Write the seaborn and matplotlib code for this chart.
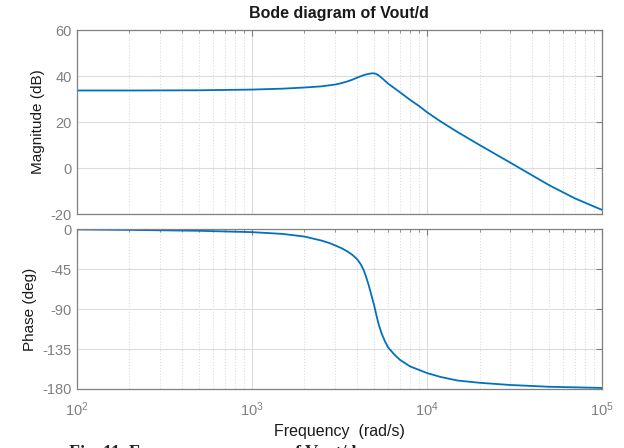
import pandas as pd
import numpy as np
import matplotlib
matplotlib.use("Agg")
import matplotlib.pyplot as plt
import seaborn as sns
from matplotlib.ticker import LogLocator, NullFormatter

# valores
mag_freq = [100, 200, 500, 1000, 1500, 2000, 2500, 3000, 3250, 3500, 3750, 4000,
            4250, 4500, 4700, 4900, 5100, 5300, 5500, 5750, 6000, 6500, 7000, 7500,
            8000, 9000, 10000, 12000, 15000, 20000, 30000, 50000, 70000, 100000]
mag_db = [33.7, 33.7, 33.8, 34.1, 34.5, 35.0, 35.5, 36.3, 36.9, 37.6, 38.4, 39.3,
          40.1, 40.7, 41.0, 41.2, 41.0, 40.3, 39.3, 38.0, 36.7, 34.8, 33.0, 31.3,
          29.7, 27.0, 24.3, 20.2, 15.6, 10.0, 2.3, -7.5, -13.2, -18.2]

ph_freq = [100, 200, 500, 1000, 1500, 2000, 2500, 2750, 3000, 3250, 3500, 3750,
           4000, 4200, 4350, 4500, 4650, 4800, 5000, 5150, 5300, 5500, 5750, 6000,
           6500, 7000, 8000, 10000, 12000, 15000, 20000, 30000, 50000, 100000]
ph_deg = [-0.5, -1.0, -2.0, -3.5, -5.5, -8.5, -13.0, -15.5, -18.5, -21.5, -25, -29,
          -34, -40, -46, -54, -63, -73, -86, -97, -107, -117, -126, -133,
          -141, -147, -154.5, -162, -166.5, -170.5, -173, -175.5, -177.5, -178.8]

mag_df = pd.DataFrame({"freq": mag_freq, "mag": mag_db})
ph_df = pd.DataFrame({"freq": ph_freq, "phase": ph_deg})

sns.set_style("white")
plt.rcParams['font.family'] = ['Liberation Sans', 'DejaVu Sans']
plt.rcParams['axes.unicode_minus'] = False

fig = plt.figure(figsize=(6.24, 4.48), dpi=100)
ax1 = fig.add_axes([0.1229, 0.5223, 0.8418, 0.4107])
ax2 = fig.add_axes([0.1229, 0.1317, 0.8418, 0.3571])

line_color = "#0072BD"
sns.lineplot(data=mag_df, x="freq", y="mag", ax=ax1, color=line_color, linewidth=1.3)
sns.lineplot(data=ph_df, x="freq", y="phase", ax=ax2, color=line_color, linewidth=1.3)

gray = "#808080"
for ax in (ax1, ax2):
    ax.set_xscale("log")
    ax.set_xlim(100, 100000)
    ax.xaxis.set_major_locator(LogLocator(base=10))
    ax.xaxis.set_minor_locator(LogLocator(base=10, subs=np.arange(2, 10)))
    ax.xaxis.set_minor_formatter(NullFormatter())
    ax.grid(True, which="major", color="#dcdcdc", linewidth=0.8)
    ax.grid(True, which="minor", axis="x", color="#dcdcdc", linestyle=":", linewidth=0.8)
    ax.tick_params(which="both", direction="in", top=True, right=True, colors=gray,
                   labelsize=10.5)
    ax.tick_params(which="major", length=4)
    ax.tick_params(which="minor", length=2.5)
    for sp in ax.spines.values():
        sp.set_color(gray)
        sp.set_linewidth(0.9)

ax1.set_ylim(-20, 60)
ax1.set_yticks([-20, 0, 20, 40, 60])
ax1.tick_params(labelbottom=False)
ax1.set_xlabel("")
ax1.set_ylabel("Magnitude (dB)", fontsize=11, color="#1a1a1a")
ax1.set_title("Bode diagram of Vout/d", fontsize=11.5, fontweight="bold", color="#1a1a1a", pad=9)

ax2.set_ylim(-180, 0)
ax2.set_yticks([-180, -135, -90, -45, 0])
ax2.tick_params(axis="x", pad=8)
ax2.set_ylabel("Phase (deg)", fontsize=11, color="#1a1a1a")
ax2.set_xlabel("Frequency  (rad/s)", fontsize=11.5, color="#1a1a1a", labelpad=4)

# pie de figura, cortado en la imagen original
fig.text(0.11, -0.032, "Fig. 11. Frequency response of Vout/d", fontsize=13,
         fontweight="bold", family="Liberation Serif", color="#222222", va="bottom")

fig.savefig("out.png", dpi=100)
